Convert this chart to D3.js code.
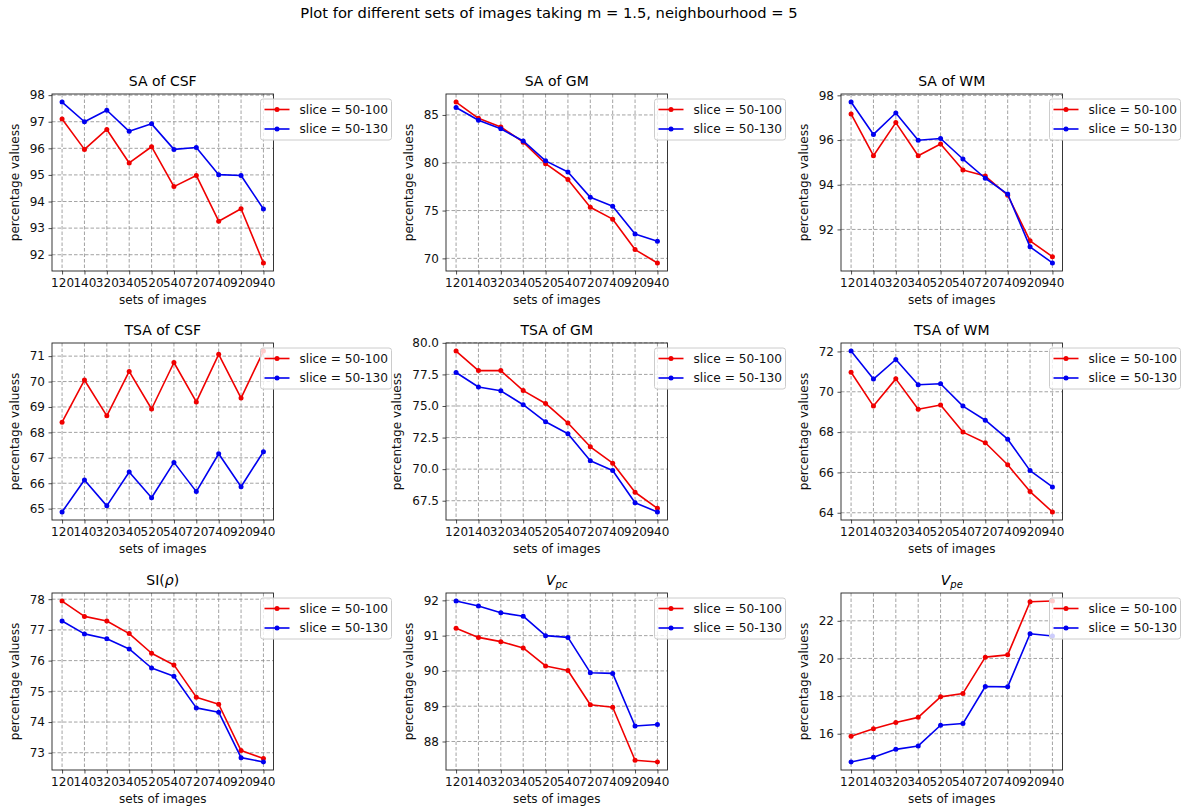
<!DOCTYPE html>
<html>
<head>
<meta charset="utf-8">
<script src="https://cdn.jsdelivr.net/npm/d3@7"></script>
<style>
  body { margin: 0; background: #fff; }
  svg { font-family: "DejaVu Sans", sans-serif; }
</style>
</head>
<body>
<svg id="chart" width="1187" height="810"></svg>
<script>
// x tick labels (sets of images)
const sets = ['120', '140', '320', '340', '520', '540', '720', '740', '920', '940'];
const seriesLabels = ['slice = 50-100', 'slice = 50-130'];

// values, one pair of arrays per subplot
const saCsf100 = [97.1, 95.96, 96.71, 95.45, 96.06, 94.56, 94.98, 93.26, 93.73, 91.69];
const saCsf130 = [97.74, 97.0, 97.43, 96.64, 96.92, 95.96, 96.03, 95.01, 94.98, 93.72];
const saGm100 = [86.35, 84.65, 83.75, 82.15, 79.9, 78.25, 75.35, 74.1, 70.92, 69.52];
const saGm130 = [85.78, 84.45, 83.55, 82.28, 80.2, 79.03, 76.38, 75.45, 72.55, 71.78];
const saWm100 = [97.17, 95.3, 96.78, 95.3, 95.82, 94.66, 94.39, 93.53, 91.49, 90.78];
const saWm130 = [97.7, 96.25, 97.21, 95.99, 96.07, 95.15, 94.29, 93.58, 91.22, 90.5];
const tsaCsf100 = [68.4, 70.06, 68.65, 70.4, 68.92, 70.75, 69.2, 71.07, 69.35, 71.2];
const tsaCsf130 = [64.87, 66.13, 65.11, 66.44, 65.43, 66.82, 65.67, 67.16, 65.86, 67.24];
const tsaGm100 = [79.35, 77.8, 77.8, 76.22, 75.2, 73.65, 71.77, 70.47, 68.17, 66.9];
const tsaGm130 = [77.65, 76.5, 76.2, 75.1, 73.75, 72.8, 70.67, 69.89, 67.34, 66.61];
const tsaWm100 = [70.97, 69.29, 70.64, 69.13, 69.34, 68.0, 67.47, 66.38, 65.05, 64.04];
const tsaWm130 = [72.02, 70.63, 71.6, 70.35, 70.4, 69.29, 68.59, 67.65, 66.09, 65.28];
const si100 = [77.94, 77.44, 77.29, 76.88, 76.24, 75.86, 74.81, 74.58, 73.07, 72.81];
const si130 = [77.29, 76.87, 76.71, 76.38, 75.76, 75.49, 74.46, 74.32, 72.84, 72.7];
const vpc100 = [91.21, 90.95, 90.83, 90.65, 90.14, 90.01, 89.04, 88.97, 87.47, 87.42];
const vpc130 = [91.98, 91.84, 91.65, 91.55, 91.0, 90.95, 89.95, 89.93, 88.44, 88.48];
const vpe100 = [15.87, 16.26, 16.6, 16.87, 17.96, 18.14, 20.07, 20.19, 23.01, 23.05];
const vpe130 = [14.5, 14.75, 15.17, 15.35, 16.45, 16.54, 18.51, 18.49, 21.31, 21.19];

// y tick values per subplot
const saCsfTicks = [92, 93, 94, 95, 96, 97, 98];
const saGmTicks = [70, 75, 80, 85];
const saWmTicks = [92, 94, 96, 98];
const tsaCsfTicks = [65, 66, 67, 68, 69, 70, 71];
const tsaGmTicks = [67.5, 70, 72.5, 75, 77.5, 80];
const tsaWmTicks = [64, 66, 68, 70, 72];
const siTicks = [73, 74, 75, 76, 77, 78];
const vpcTicks = [88, 89, 90, 91, 92];
const vpeTicks = [16, 18, 20, 22];

const colors = ['#f00000', '#0000f0'];

// title parts: [text, italic, subscript]
const panels = [
  { title: [['SA of CSF']], a: saCsf100, b: saCsf130, ticks: saCsfTicks, fmt: d3.format('d') },
  { title: [['SA of GM']], a: saGm100, b: saGm130, ticks: saGmTicks, fmt: d3.format('d') },
  { title: [['SA of WM']], a: saWm100, b: saWm130, ticks: saWmTicks, fmt: d3.format('d') },
  { title: [['TSA of CSF']], a: tsaCsf100, b: tsaCsf130, ticks: tsaCsfTicks, fmt: d3.format('d') },
  { title: [['TSA of GM']], a: tsaGm100, b: tsaGm130, ticks: tsaGmTicks, fmt: d3.format('.1f') },
  { title: [['TSA of WM']], a: tsaWm100, b: tsaWm130, ticks: tsaWmTicks, fmt: d3.format('d') },
  { title: [['SI('], ['ρ', true], [')']], a: si100, b: si130, ticks: siTicks, fmt: d3.format('d') },
  { title: [['V', true], ['pc', true, true]], a: vpc100, b: vpc130, ticks: vpcTicks, fmt: d3.format('d') },
  { title: [['V', true], ['pe', true, true]], a: vpe100, b: vpe130, ticks: vpeTicks, fmt: d3.format('d') },
];

const colX = [52, 446, 841];
const rowY = [94, 343, 593];
const axW = 221.5;
const axH = 177;

const svg = d3.select('#chart');

svg.append('text')
  .attr('x', 549)
  .attr('y', 18)
  .attr('text-anchor', 'middle')
  .attr('font-size', 14.7)
  .attr('fill', '#000')
  .text('Plot for different sets of images taking m = 1.5, neighbourhood = 5');

panels.forEach((p, i) => {
  const g = svg.append('g')
    .attr('transform', `translate(${colX[i % 3]},${rowY[Math.floor(i / 3)]})`);

  const x = d3.scaleLinear().domain([-0.45, sets.length - 1 + 0.45]).range([0, axW]);
  const [lo, hi] = d3.extent(p.a.concat(p.b));
  const pad = (hi - lo) * 0.05;
  const y = d3.scaleLinear().domain([lo - pad, hi + pad]).range([axH, 0]);

  // grid
  g.append('g').selectAll('line.vx')
    .data(sets.map((s, k) => k))
    .join('line')
    .attr('x1', d => x(d)).attr('x2', d => x(d))
    .attr('y1', 0).attr('y2', axH)
    .attr('stroke', '#8c8c8c').attr('stroke-width', 0.8).attr('stroke-dasharray', '3.5,2');
  g.append('g').selectAll('line.hy')
    .data(p.ticks)
    .join('line')
    .attr('x1', 0).attr('x2', axW)
    .attr('y1', d => y(d)).attr('y2', d => y(d))
    .attr('stroke', '#8c8c8c').attr('stroke-width', 0.8).attr('stroke-dasharray', '3.5,2');

  // axes
  const xAxis = g.append('g')
    .attr('transform', `translate(0,${axH})`)
    .call(d3.axisBottom(x).tickValues(sets.map((s, k) => k)).tickFormat(k => sets[k]).tickSize(3.5).tickPadding(3.5));
  const yAxis = g.append('g')
    .call(d3.axisLeft(y).tickValues(p.ticks).tickFormat(p.fmt).tickSize(3.5).tickPadding(3.5));
  [xAxis, yAxis].forEach(ax => {
    ax.select('.domain').remove();
    ax.selectAll('line').attr('stroke', '#222').attr('stroke-width', 0.8);
    ax.selectAll('text').attr('font-size', 12).attr('fill', '#111').attr('font-family', 'DejaVu Sans');
  });

  g.append('rect')
    .attr('width', axW).attr('height', axH)
    .attr('fill', 'none').attr('stroke', '#222').attr('stroke-width', 0.9);

  // series
  const line = d3.line().x((d, k) => x(k)).y(d => y(d));
  [p.a, p.b].forEach((vals, s) => {
    g.append('path')
      .datum(vals)
      .attr('d', line)
      .attr('fill', 'none')
      .attr('stroke', colors[s])
      .attr('stroke-width', 1.6)
      .attr('stroke-linejoin', 'round');
    g.append('g').selectAll('circle')
      .data(vals)
      .join('circle')
      .attr('cx', (d, k) => x(k))
      .attr('cy', d => y(d))
      .attr('r', 2.5)
      .attr('fill', colors[s]);
  });

  // title
  const t = g.append('text')
    .attr('x', axW / 2)
    .attr('y', -8.5)
    .attr('text-anchor', 'middle')
    .attr('font-size', 14)
    .attr('fill', '#000');
  p.title.forEach(([txt, ital, sub]) => {
    const ts = t.append('tspan').text(txt);
    if (ital) ts.attr('font-style', 'italic');
    if (sub) ts.attr('font-size', 10).attr('dy', 3);
  });

  // axis labels
  g.append('text')
    .attr('x', axW / 2)
    .attr('y', axH + 33)
    .attr('text-anchor', 'middle')
    .attr('font-size', 12)
    .attr('fill', '#111')
    .text('sets of images');

  const tickLeft = d3.min(yAxis.selectAll('text').nodes(), n => n.getBBox().x);
  g.append('text')
    .attr('transform', `translate(${tickLeft - 15},${axH / 2}) rotate(-90)`)
    .attr('text-anchor', 'middle')
    .attr('dy', '0.35em')
    .attr('font-size', 12)
    .attr('fill', '#111')
    .text('percentage valuess');

  // legend
  const lg = g.append('g').attr('transform', `translate(${axW - 13},5)`);
  lg.append('rect')
    .attr('width', 131).attr('height', 41).attr('rx', 2.5)
    .attr('fill', '#fff').attr('fill-opacity', 0.8)
    .attr('stroke', '#cccccc').attr('stroke-width', 1);
  seriesLabels.forEach((lab, s) => {
    const ly = 10.5 + s * 19.5;
    lg.append('line')
      .attr('x1', 4).attr('x2', 29).attr('y1', ly).attr('y2', ly)
      .attr('stroke', colors[s]).attr('stroke-width', 1.6);
    lg.append('circle').attr('cx', 16.5).attr('cy', ly).attr('r', 2.5).attr('fill', colors[s]);
    lg.append('text')
      .attr('x', 39).attr('y', ly).attr('dy', '0.35em')
      .attr('font-size', 12.2).attr('fill', '#111')
      .text(lab);
  });
});
</script>
</body>
</html>
